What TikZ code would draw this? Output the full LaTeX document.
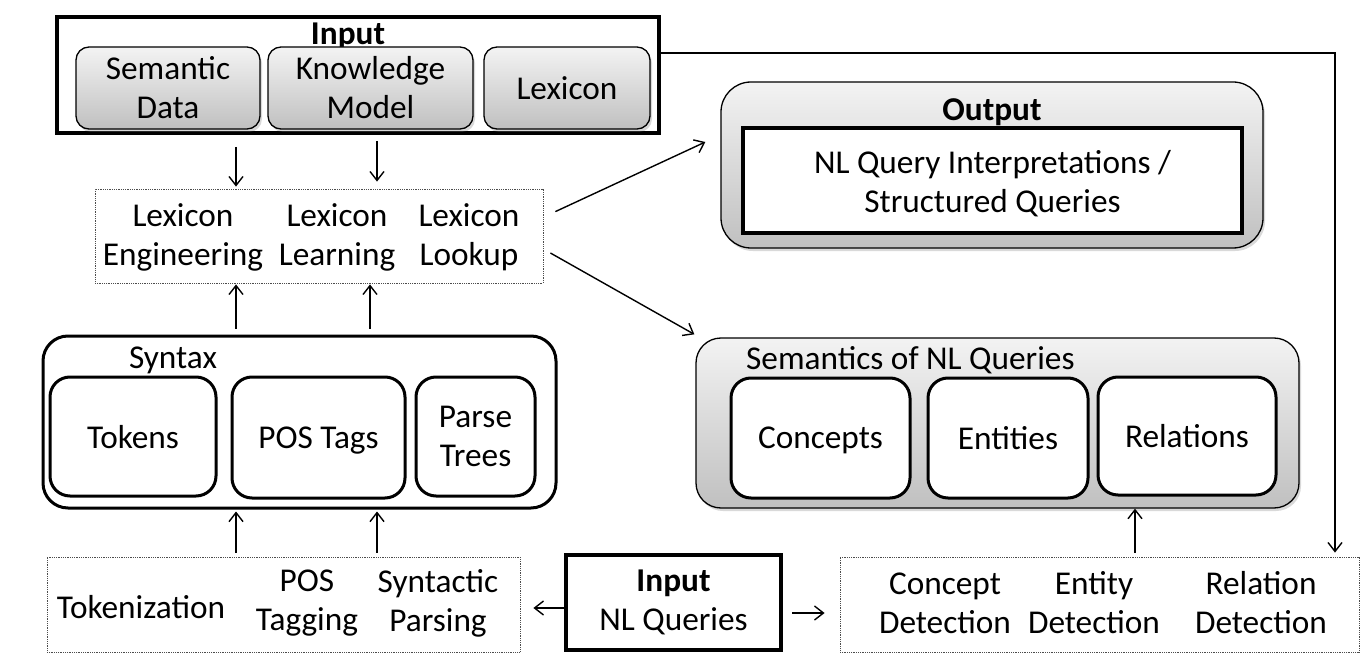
\documentclass[tikz,border=0pt]{standalone}
\usepackage{fontspec}
\setmainfont{Carlito}
\usetikzlibrary{arrows.meta,shadows,calc}
\definecolor{gtop}{HTML}{F3F3F3}
\definecolor{gbot}{HTML}{C0C0C0}
\begin{document}
\begin{tikzpicture}[x=1pt,y=-1pt,
  every node/.style={font=\fontsize{33.3}{39}\selectfont, inner sep=0pt, align=center},
  txt/.style={},
  one/.style={text depth=0pt},
  gshadow/.style={drop shadow={opacity=0.3,shadow xshift=2pt,shadow yshift=-3pt}},
  gbox/.style={draw=black, line width=1.3pt, top color=gtop, bottom color=gbot, gshadow},
  wbox/.style={draw=black, line width=3pt, fill=white, rounded corners=20pt},
  thickbox/.style={draw=black, line width=4pt, fill=white},
  dotbox/.style={draw=black!70, densely dotted, line width=0.8pt},
  arr/.style={-{Straight Barb[length=9pt,width=14pt,line width=1.4pt]}, line width=1.4pt}
]
\useasboundingbox (0,0) rectangle (1361,666);

% ---------- Input (top) ----------
\node[thickbox, minimum width=602pt, minimum height=116pt] (inbox) at (358,75) {};
\node[txt, one] (intitle) at (348,34) {\textbf{Input}};
\node[gbox, rounded corners=13pt, minimum width=184pt, minimum height=82pt] (sd) at (168,88) {Semantic\\Data};
\node[gbox, rounded corners=13pt, minimum width=205pt, minimum height=82pt] (km) at (370.5,88) {Knowledge\\Model};
\node[gbox, rounded corners=13pt, minimum width=166pt, minimum height=82pt] (lx) at (567,88) {Lexicon};

% ---------- Lexicon processing ----------
\node[dotbox, minimum width=448pt, minimum height=94pt] (lexbox) at (319,236) {};
\node[txt] (leng) at (183,237.5) {Lexicon\\Engineering};
\node[txt] (llea) at (337,237.5) {Lexicon\\Learning};
\node[txt] (llook) at (469,237.5) {Lexicon\\Lookup};

% ---------- Output ----------
\node[gbox, rounded corners=30pt, minimum width=542pt, minimum height=166pt] (outbox) at (992,165) {};
\node[txt, one] (outtitle) at (992,110) {\textbf{Output}};
\node[thickbox, minimum width=499pt, minimum height=105pt] (outinner) at (992.5,180.5) {};
\node[txt] (outtext) at (992.5,184) {NL Query Interpretations /\\Structured Queries};

% ---------- Syntax ----------
\node[draw=black, line width=3pt, fill=white, rounded corners=25pt, minimum width=513pt, minimum height=172pt] (synbox) at (299.5,422) {};
\node[txt, one] (syntitle) at (173,358) {Syntax};
\node[wbox, one, minimum width=166pt, minimum height=119pt] (tokens) at (133,436.5) {Tokens};
\node[wbox, one, minimum width=173pt, minimum height=121pt] (postags) at (318.5,437.5) {POS Tags};
\node[wbox, minimum width=119pt, minimum height=119pt] (parse) at (475.5,436.5) {Parse\\Trees};

% ---------- Semantics ----------
\node[gbox, rounded corners=25pt, minimum width=603pt, minimum height=170pt] (sembox) at (997.5,423) {};
\node[txt, one, anchor=west] (semtitle) at (746,358) {Semantics of NL Queries};
\node[wbox, one, minimum width=179pt, minimum height=120pt] (concepts) at (820.5,438) {Concepts};
\node[wbox, one, minimum width=160pt, minimum height=120pt] (entities) at (1008,438) {Entities};
\node[wbox, one, minimum width=178pt, minimum height=118pt] (relations) at (1187,436) {Relations};

% ---------- Bottom row ----------
\node[dotbox, minimum width=473pt, minimum height=95pt] (tokbox) at (283.5,604.5) {};
\node[txt] (tokz) at (141,607) {Tokenization};
\node[txt] (post) at (307,603) {POS\\Tagging};
\node[txt] (synp) at (438,603) {Syntactic\\Parsing};

\node[thickbox, minimum width=215pt, minimum height=95pt] (nlbox) at (673.5,602.5) {\textbf{Input}\\NL Queries};

\node[dotbox, minimum width=519pt, minimum height=95pt] (detbox) at (1099.5,604.5) {};
\node[txt] (cdet) at (945,603) {Concept\\Detection};
\node[txt] (edet) at (1094,603) {Entity\\Detection};
\node[txt] (rdet) at (1261,603) {Relation\\Detection};

% ---------- helper x positions ----------
\coordinate (xa) at (236,0);
\coordinate (xb) at (377,0);
\coordinate (xc) at (370,0);
\coordinate (xd) at (1135,0);
\coordinate (xe) at (1335,0);

% ---------- connectors ----------
\draw[arr, shorten <=12pt, shorten >=2pt] (inbox.south -| xa) -- (lexbox.north -| xa);
\draw[arr, shorten <=6pt, shorten >=7pt] (inbox.south -| xb) -- (lexbox.north -| xb);

\draw[arr, shorten <=6pt, shorten >=1pt] (synbox.north -| xa) -- (lexbox.south -| xa);
\draw[arr, shorten <=6pt, shorten >=1pt] (synbox.north -| xc) -- (lexbox.south -| xc);

\draw[arr, shorten <=4pt, shorten >=2pt] (tokbox.north -| xa) -- (synbox.south -| xa);
\draw[arr, shorten <=4pt, shorten >=2pt] (tokbox.north -| xb) -- (synbox.south -| xb);

\draw[arr] ([xshift=12pt,yshift=-23pt]lexbox.north east) -- ([xshift=-15pt,yshift=23pt]outbox.west);
\draw[arr] ([xshift=7pt,yshift=-17pt]lexbox.east) -- ([xshift=-1pt,yshift=3pt]sembox.north west);

\draw[arr, shorten >=4pt] ([yshift=22pt]inbox.east) -| (detbox.north -| xe);

\draw[arr, shorten <=4pt, shorten >=0pt] (detbox.north -| xd) -- (sembox.south -| xd);

\draw[arr, shorten >=13pt] ([yshift=-5.5pt]nlbox.west) -- ([yshift=-5.5pt]nlbox.west -| tokbox.east);
\draw[arr, shorten <=9pt, shorten >=15pt] ([yshift=-10.5pt]nlbox.east) -- ([yshift=-10.5pt]nlbox.east -| detbox.west);
\end{tikzpicture}
\end{document}
